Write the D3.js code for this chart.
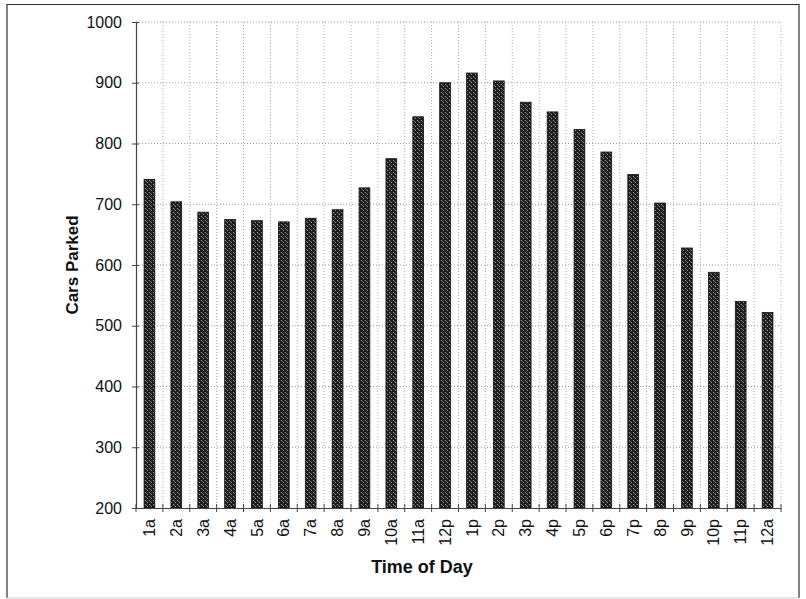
<!DOCTYPE html>
<html>
<head>
<meta charset="utf-8">
<script src="https://cdn.jsdelivr.net/npm/d3@7"></script>
<style>
  html, body { margin: 0; padding: 0; background: #fff; }
  svg { display: block; }
  text { font-family: Arial, "Liberation Sans", sans-serif; fill: #111; }
</style>
</head>
<body>
<svg id="chart" width="806" height="599"></svg>
<script>
const categories = ["1a","2a","3a","4a","5a","6a","7a","8a","9a","10a","11a","12p",
                    "1p","2p","3p","4p","5p","6p","7p","8p","9p","10p","11p","12a"];
const carsParked = [741,704,687,675,673,671,677,691,727,775,844,900,
                    916,903,868,852,823,786,749,702,628,588,540,522];
const yTicks = [200,300,400,500,600,700,800,900,1000];

const svg = d3.select("#chart");
const plot = {left: 136, right: 781, top: 22, bottom: 508};

// outer frame
svg.append("path")
  .attr("d", "M7,598 L7,4.5 L799,4.5 L799,598")
  .attr("fill", "none").attr("stroke", "#333").attr("stroke-width", 1.2);
svg.append("line").attr("x1", 7).attr("x2", 799).attr("y1", 598).attr("y2", 598)
  .attr("stroke", "#ccc").attr("stroke-width", 1);

const x = d3.scaleBand().domain(categories).range([plot.left, plot.right])
  .paddingInner(0.6).paddingOuter(0.3);
const y = d3.scaleLinear().domain([200, 1000]).range([plot.bottom, plot.top]);

// pattern for halftone-like bars
const defs = svg.append("defs");
const pat = defs.append("pattern").attr("id", "bartex").attr("patternUnits", "userSpaceOnUse")
  .attr("width", 4).attr("height", 4);
pat.append("rect").attr("width", 4).attr("height", 4).attr("fill", "#1e1e1e");
pat.append("rect").attr("x", 1).attr("y", 0).attr("width", 1).attr("height", 1).attr("fill", "#9a9a9a");
pat.append("rect").attr("x", 3).attr("y", 2).attr("width", 1).attr("height", 1).attr("fill", "#9a9a9a");
pat.append("rect").attr("x", 2).attr("y", 1).attr("width", 1).attr("height", 1).attr("fill", "#666");

// gridlines
const step = x.step();
const boundaries = d3.range(categories.length + 1).map(i => plot.left + i * step);
svg.append("g").selectAll("line").data(yTicks.filter(d => d > 200)).join("line")
  .attr("x1", plot.left).attr("x2", plot.right)
  .attr("y1", d => y(d)).attr("y2", d => y(d))
  .attr("stroke", "#999").attr("stroke-width", 1).attr("stroke-dasharray", "1,2");
svg.append("g").selectAll("line").data(boundaries.slice(1)).join("line")
  .attr("x1", d => d).attr("x2", d => d)
  .attr("y1", plot.top).attr("y2", plot.bottom)
  .attr("stroke", "#aaa").attr("stroke-width", 1).attr("stroke-dasharray", "1,2");

// bars
svg.append("g").selectAll("rect").data(carsParked).join("rect")
  .attr("x", (d, i) => x(categories[i]))
  .attr("y", d => y(d))
  .attr("width", x.bandwidth())
  .attr("height", d => y(200) - y(d))
  .attr("fill", "url(#bartex)")
  .attr("stroke", "#111").attr("stroke-width", 0.8);

// y axis
const yAxis = d3.axisLeft(y).tickValues(yTicks).tickFormat(d3.format("d")).tickSize(4).tickPadding(10);
const gy = svg.append("g").attr("transform", `translate(${plot.left},0)`).call(yAxis);
gy.select(".domain").attr("stroke", "#444").attr("stroke-width", 1.2);
gy.selectAll(".tick line").attr("x2", -4).attr("x1", 3).attr("stroke", "#444");
gy.selectAll(".tick text").attr("font-size", 16).attr("font-family", "Arial, 'Liberation Sans', sans-serif").attr("fill", "#111");

// x axis
const xAxis = d3.axisBottom(x).tickSize(0).tickPadding(0);
const gx = svg.append("g").attr("transform", `translate(0,${plot.bottom})`).call(xAxis);
gx.select(".domain").attr("stroke", "#444").attr("stroke-width", 1.2);
gx.selectAll(".tick text")
  .attr("font-size", 16).attr("font-family", "Arial, 'Liberation Sans', sans-serif").attr("fill", "#111")
  .attr("text-anchor", "end")
  .attr("transform", "translate(0,11) rotate(-90)")
  .attr("dx", 0).attr("dy", "0.35em").attr("y", 0).attr("x", 0);
// boundary tick marks
svg.append("g").selectAll("line").data(boundaries).join("line")
  .attr("x1", d => d).attr("x2", d => d)
  .attr("y1", plot.bottom - 4).attr("y2", plot.bottom + 4)
  .attr("stroke", "#444").attr("stroke-width", 1);

// axis titles
svg.append("text").attr("x", 422).attr("y", 573).attr("text-anchor", "middle")
  .attr("font-size", 18).attr("font-weight", "bold").text("Time of Day");
svg.append("text").attr("transform", `translate(78,${(plot.top + plot.bottom) / 2}) rotate(-90)`)
  .attr("text-anchor", "middle").attr("font-size", 17).attr("font-weight", "bold").text("Cars Parked");
</script>
</body>
</html>
